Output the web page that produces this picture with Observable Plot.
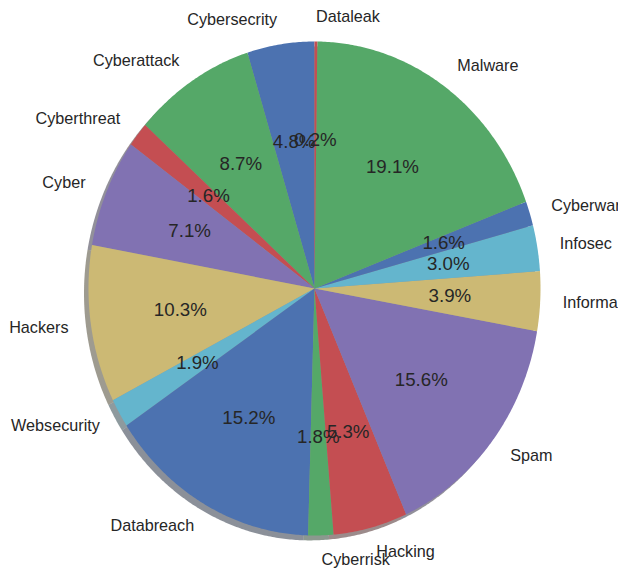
<!DOCTYPE html>
<html>
<head>
<meta charset="utf-8">
<script src="https://cdn.jsdelivr.net/npm/d3@7"></script>
<script src="https://cdn.jsdelivr.net/npm/@observablehq/plot@0.6"></script>
<style>
  html, body { margin: 0; padding: 0; background: #fff; overflow: hidden; width: 618px; height: 571px; }
  #chart svg { display: block; }
</style>
</head>
<body>
<div id="chart"></div>
<script>
// Data (in drawing order: counter-clockwise starting at 12 o'clock)
const categories = ["Cybersecrity", "Cyberattack", "Cyberthreat", "Cyber", "Hackers", "Websecurity",
  "Databreach", "Cyberrisk", "Hacking", "Spam", "Informa", "Infosec", "Cyberwar", "Malware", "Dataleak"];
const shares = [4.8, 8.7, 1.6, 7.1, 10.3, 1.9, 15.2, 1.8, 5.3, 15.6, 3.9, 3.0, 1.6, 19.1, 0.2];
const palette = ["#4C72B0", "#55A868", "#C44E52", "#8172B2", "#CCB974", "#64B5CD"];

const total = d3.sum(shares);
const slices = [];
let cum = 0;
categories.forEach((name, i) => {
  const a0 = Math.PI / 2 + 2 * Math.PI * cum / total;
  cum += shares[i];
  const a1 = Math.PI / 2 + 2 * Math.PI * cum / total;
  const mid = (a0 + a1) / 2;
  slices.push({name, value: shares[i], a0, a1, mid, color: palette[i % palette.length],
    shadow: d3.color(palette[i % palette.length]).darker(3.4).formatHex()});
});

// polygon vertices of each wedge, derived from the slice angles (unit radius)
const verts = [];
slices.forEach(s => {
  verts.push({name: s.name, x: 0, y: 0, color: s.color, shadow: s.shadow});
  const n = Math.max(2, Math.ceil((s.a1 - s.a0) / (Math.PI / 360)));
  for (let k = 0; k <= n; k++) {
    const a = s.a0 + (s.a1 - s.a0) * k / n;
    verts.push({name: s.name, x: Math.cos(a), y: Math.sin(a), color: s.color, shadow: s.shadow});
  }
  verts.push({name: s.name, x: 0, y: 0, color: s.color, shadow: s.shadow});
});

const labels = slices.map(s => ({name: s.name, x: 1.1 * Math.cos(s.mid), y: 1.1 * Math.sin(s.mid)}));
const pcts = slices.map(s => ({text: (100 * s.value / total).toFixed(1) + "%", x: 0.6 * Math.cos(s.mid), y: 0.6 * Math.sin(s.mid)}));

const font = "'Liberation Sans', Arial, sans-serif";

const chart = Plot.plot({
  width: 618,
  height: 571,
  marginLeft: 88,
  marginRight: 78,
  marginTop: 41,
  marginBottom: 36,
  x: {domain: [-1, 1], axis: null},
  y: {domain: [-1, 1], axis: null},
  style: {fontFamily: font, background: "#fff", overflow: "hidden"},
  marks: [
    // shadow
    Plot.line(verts, {x: "x", y: "y", z: "name", fill: "shadow", fillOpacity: 0.5, stroke: null, curve: "linear", dx: -4.5, dy: 4.9}),
    // wedges
    Plot.line(verts, {x: "x", y: "y", z: "name", fill: "color", stroke: null, curve: "linear"}),
    // outer labels
    Plot.text(labels.filter(d => d.x >= 0), {x: "x", y: "y", text: "name", textAnchor: "start", fontSize: 16.2, fill: "#262626"}),
    Plot.text(labels.filter(d => d.x < 0), {x: "x", y: "y", text: "name", textAnchor: "end", fontSize: 16.2, fill: "#262626"}),
    // percentages
    Plot.text(pcts, {x: "x", y: "y", text: "text", textAnchor: "middle", fontSize: 18.7, fill: "#262626"})
  ]
});
document.getElementById("chart").appendChild(chart);
</script>
</body>
</html>
